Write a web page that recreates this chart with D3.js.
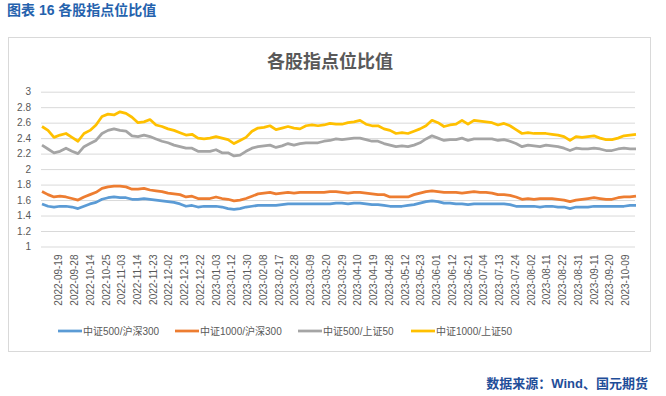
<!DOCTYPE html>
<html>
<head>
<meta charset="utf-8">
<title>各股指点位比值</title>
<script src="https://cdn.jsdelivr.net/npm/d3@7/dist/d3.min.js"></script>
<style>
  body { margin: 0; background: #fff; }
  text { font-family: "Liberation Sans", Arial, "Noto Sans CJK SC", sans-serif; }
</style>
</head>
<body>
<div id="chart"></div>
<script>
// tick labels (every 7 trading days)
var dateLabels = ["2022-09-19","2022-09-28","2022-10-14","2022-10-25","2022-11-03","2022-11-14","2022-11-23",
  "2022-12-02","2022-12-13","2022-12-22","2023-01-03","2023-01-12","2023-01-30","2023-02-08","2023-02-17",
  "2023-02-28","2023-03-09","2023-03-20","2023-03-29","2023-04-10","2023-04-19","2023-04-28","2023-05-12",
  "2023-05-23","2023-06-01","2023-06-12","2023-06-21","2023-07-04","2023-07-13","2023-07-24","2023-08-02",
  "2023-08-11","2023-08-22","2023-08-31","2023-09-11","2023-09-20","2023-10-09"];
var yTicks = [1, 1.2, 1.4, 1.6, 1.8, 2, 2.2, 2.4, 2.6, 2.8, 3];

// values
var zz500_hs300 = [1.55,1.52,1.51,1.52,1.52,1.51,1.49,1.52,1.55,1.57,1.61,1.63,1.64,1.63,1.63,1.61,1.61,1.62,1.61,1.60,1.59,1.58,1.57,1.55,1.52,
  1.53,1.51,1.52,1.52,1.52,1.51,1.49,1.48,1.49,1.51,1.52,1.53,1.53,1.53,1.53,1.54,1.55,1.55,1.55,1.55,1.55,1.55,1.55,1.55,1.56,
  1.56,1.55,1.56,1.56,1.55,1.54,1.54,1.53,1.52,1.52,1.52,1.53,1.54,1.56,1.58,1.59,1.58,1.56,1.56,1.55,1.55,1.54,1.55,1.55,
  1.55,1.55,1.55,1.55,1.54,1.52,1.52,1.52,1.52,1.51,1.52,1.52,1.51,1.51,1.49,1.51,1.51,1.51,1.52,1.52,1.52,1.52,1.52,1.52,1.53,1.53];
var zz1000_hs300 = [1.71,1.67,1.64,1.65,1.64,1.62,1.60,1.64,1.67,1.70,1.75,1.77,1.78,1.78,1.77,1.74,1.74,1.75,1.73,1.72,1.71,1.69,1.68,1.67,1.64,
  1.65,1.62,1.62,1.62,1.64,1.62,1.61,1.59,1.60,1.62,1.65,1.68,1.69,1.70,1.68,1.69,1.70,1.69,1.70,1.70,1.70,1.70,1.70,1.71,1.71,
  1.70,1.69,1.70,1.70,1.69,1.68,1.67,1.67,1.64,1.64,1.64,1.64,1.67,1.69,1.71,1.72,1.71,1.70,1.70,1.70,1.69,1.70,1.71,1.70,
  1.70,1.69,1.67,1.67,1.66,1.64,1.61,1.62,1.61,1.62,1.62,1.62,1.61,1.60,1.58,1.60,1.61,1.62,1.63,1.62,1.61,1.61,1.63,1.64,1.64,1.65];
var zz500_sz50 = [2.31,2.26,2.21,2.23,2.27,2.23,2.20,2.29,2.33,2.37,2.46,2.50,2.52,2.50,2.49,2.43,2.42,2.44,2.42,2.39,2.36,2.34,2.31,2.29,2.27,
  2.27,2.23,2.23,2.23,2.25,2.21,2.21,2.17,2.18,2.23,2.27,2.29,2.30,2.31,2.28,2.30,2.33,2.31,2.33,2.34,2.34,2.34,2.36,2.37,2.39,
  2.38,2.39,2.40,2.40,2.38,2.36,2.36,2.33,2.31,2.29,2.30,2.29,2.31,2.34,2.39,2.43,2.40,2.37,2.38,2.38,2.40,2.37,2.39,2.39,
  2.39,2.39,2.37,2.38,2.36,2.33,2.29,2.31,2.30,2.29,2.31,2.30,2.29,2.27,2.24,2.27,2.26,2.26,2.27,2.26,2.24,2.24,2.26,2.27,2.26,2.26];
var zz1000_sz50 = [2.55,2.50,2.41,2.44,2.46,2.41,2.36,2.46,2.50,2.57,2.68,2.71,2.70,2.74,2.72,2.67,2.60,2.61,2.64,2.57,2.55,2.52,2.50,2.47,2.44,
  2.45,2.40,2.39,2.40,2.42,2.40,2.38,2.33,2.37,2.41,2.49,2.53,2.54,2.56,2.51,2.53,2.55,2.53,2.52,2.56,2.57,2.56,2.57,2.59,2.58,
  2.58,2.60,2.61,2.63,2.58,2.56,2.56,2.52,2.50,2.46,2.47,2.46,2.49,2.52,2.56,2.63,2.60,2.55,2.57,2.58,2.63,2.58,2.63,2.62,
  2.61,2.60,2.57,2.59,2.56,2.51,2.46,2.47,2.46,2.46,2.46,2.45,2.44,2.42,2.37,2.42,2.41,2.42,2.43,2.40,2.38,2.38,2.40,2.43,2.44,2.45];

var seriesNames = ["中证500/沪深300", "中证1000/沪深300", "中证500/上证50", "中证1000/上证50"];
var seriesColors = ["#5b9bd5", "#ed7d31", "#a5a5a5", "#ffc000"];
var seriesData = [zz500_hs300, zz1000_hs300, zz500_sz50, zz1000_sz50];

var W = 666, H = 396;
var svg = d3.select("#chart").append("svg").attr("width", W).attr("height", H);

// header and source
svg.append("text").attr("x", 7).attr("y", 15).attr("fill", "#2462ad")
  .attr("font-size", 14).attr("font-weight", "bold").text("图表 16  各股指点位比值");
svg.append("text").attr("x", 648).attr("y", 388).attr("text-anchor", "end").attr("fill", "#1f4e99")
  .attr("font-size", 13).attr("font-weight", "bold").text("数据来源：Wind、国元期货");

// chart frame
svg.append("rect").attr("x", 8.5).attr("y", 37.5).attr("width", 642).attr("height", 314)
  .attr("fill", "#fff").attr("stroke", "#d9d9d9");

svg.append("text").attr("x", 330).attr("y", 68).attr("text-anchor", "middle").attr("fill", "#595959")
  .attr("font-size", 18).attr("font-weight", "bold").text("各股指点位比值");

var y = d3.scaleLinear().domain([1, 3]).range([246.5, 91.7]);
var x = d3.scaleLinear().domain([0, zz500_hs300.length - 1]).range([42, 636]);
var xl = d3.scalePoint().domain(dateLabels).range([58.3, 625]);

// grid + y labels
var yAxis = svg.append("g").attr("transform", "translate(41,0)")
  .call(d3.axisLeft(y).tickValues(yTicks).tickSize(-594).tickFormat(d3.format("~g")).tickPadding(10));
yAxis.select(".domain").remove();
yAxis.selectAll("line").attr("stroke", "#d9d9d9");
yAxis.selectAll("text").attr("fill", "#595959").attr("font-size", 10).attr("font-family", "Liberation Sans, Arial");

// x labels
var xAxis = svg.append("g").attr("transform", "translate(0,246.5)")
  .call(d3.axisBottom(xl).tickSize(0));
xAxis.select(".domain").remove();
xAxis.selectAll("text").attr("fill", "#595959").attr("font-size", 10).attr("font-family", "Liberation Sans, Arial")
  .attr("text-anchor", "end").attr("transform", "rotate(-90)")
  .attr("x", -8).attr("y", 0).attr("dy", "0.35em");

// lines
var line = d3.line().x(function(d, i) { return x(i); }).y(function(d) { return y(d); });
seriesData.forEach(function(s, k) {
  svg.append("path").datum(s).attr("fill", "none").attr("stroke", seriesColors[k])
    .attr("stroke-width", 2.75).attr("stroke-linejoin", "round").attr("d", line);
});

// legend
var legX = [58, 175, 298, 411];
var leg = svg.selectAll(".leg").data(seriesNames).enter().append("g")
  .attr("transform", function(d, i) { return "translate(" + legX[i] + ",331)"; });
leg.append("line").attr("x1", 0).attr("x2", 24).attr("stroke", function(d, i) { return seriesColors[i]; })
  .attr("stroke-width", 2.75);
leg.append("text").attr("x", 25).attr("dy", "0.35em").attr("fill", "#595959").attr("font-size", 10)
  .text(function(d) { return d; });
</script>
</body>
</html>
